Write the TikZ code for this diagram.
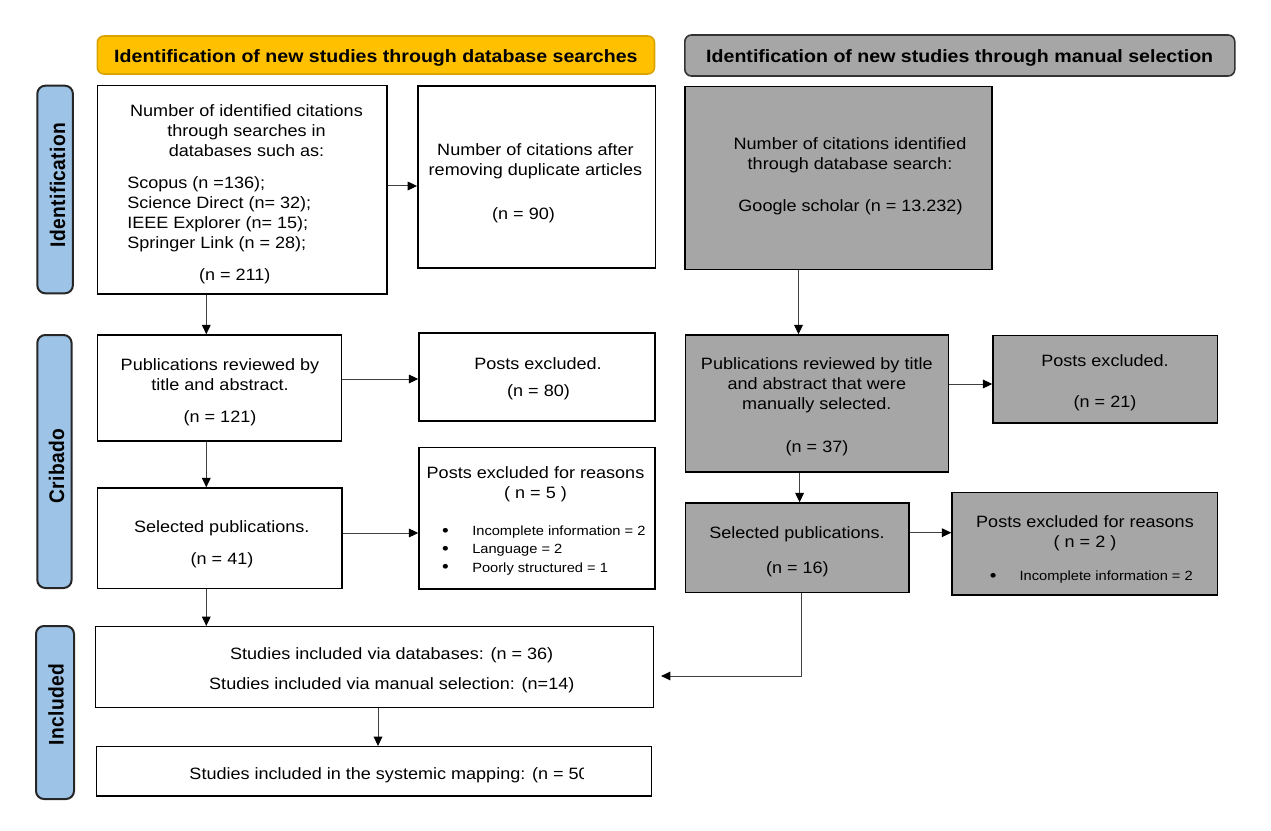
\documentclass[tikz,border=0pt]{standalone}
\usepackage{graphicx}
\usepackage{fontspec}
\setmainfont{Liberation Sans}[FakeStretch=1.1]
\newfontfamily\sidefont{Liberation Sans}[LetterSpace=2]
\usetikzlibrary{fit,arrows.meta,calc}
\definecolor{hdrorange}{HTML}{FFC000}
\definecolor{hdrorangeb}{HTML}{D9A300}
\definecolor{hdrgray}{HTML}{A6A6A6}
\definecolor{boxgray}{HTML}{A6A6A6}
\definecolor{sideblue}{HTML}{9DC3E6}
\definecolor{lineclr}{HTML}{404040}
\begin{document}
\begin{tikzpicture}[x=0.75pt,y=-0.75pt,
  bx/.style={draw=black, line width=1.1pt, inner sep=0pt},
  gbx/.style={bx, fill=boxgray},
  hdro/.style={draw=hdrorangeb, fill=hdrorange, line width=1.2pt, rounded corners=5pt, inner sep=0pt},
  hdrg/.style={draw=black!80, fill=hdrgray, line width=1.2pt, rounded corners=5pt, inner sep=0pt},
  side/.style={draw=black!85, fill=sideblue, line width=1.5pt, rounded corners=6pt, inner sep=0pt},
  txt/.style={inner sep=0pt, yshift=-1.5pt, align=center, font=\fontsize{12.3pt}{15.2pt}\selectfont},
  ltxt/.style={txt, align=left},
  stxt/.style={inner sep=0pt, yshift=-1.5pt, align=left, font=\fontsize{10pt}{13.7pt}\selectfont},
  btxt/.style={inner sep=0pt, yshift=-1.5pt, align=center, font=\fontsize{13pt}{13.7pt}\selectfont},
  htxt/.style={inner sep=0pt, yshift=-1.5pt, font=\fontsize{13.35pt}{16pt}\selectfont\bfseries},
  sidetxt/.style={inner sep=0pt, rotate=90, font=\sidefont\fontsize{14.4pt}{17pt}\selectfont\bfseries},
  arr/.style={draw=lineclr, line width=0.75pt, -{Triangle[length=7pt,width=6.5pt,color=black]}}
]
\useasboundingbox (0,0) rectangle (1271,831);

% headers
\node[hdro, fit={(97.3,36)(654.5,74)}] (H1) {};
\node[htxt] (H1t) at (375.9,56) {Identification of new studies through database searches};
\node[hdrg, fit={(684.8,35)(1234.8,76)}] (H2) {};
\node[htxt] (H2t) at (959.7,56) {Identification of new studies through manual selection};

% side labels
\node[side, fit={(37.3,85.7)(72.9,293.3)}] (S1) {};
\node[sidetxt] (S1t) at (57.5,185) {\scalebox{1}[1.1]{Identification}};
\node[side, fit={(37.3,335)(71.6,588)}] (S2) {};
\node[sidetxt] (S2t) at (56.5,466) {\scalebox{1}[1.1]{Cribado}};
\node[side, fit={(36,626)(74,799)}] (S3) {};
\node[sidetxt] (S3t) at (56,704.5) {\scalebox{1}[1.1]{Included}};

% left column boxes
\node[bx, fit={(97.3,85.7)(387,294)}] (A) {};
\node[txt] (At1) at (246.5,128.5) {Number of identified citations\\through searches in\\databases such as:};
\node[ltxt, anchor=west] (At2) at (127,212.3) {Scopus (n =136);\\Science Direct (n= 32);\\IEEE Explorer (n= 15);\\Springer Link (n = 28);};
\node[txt] (At3) at (234.7,274) {(n = 211)};

\node[bx, fit={(417.8,86)(655.3,268)}] (B) {};
\node[txt] (Bt1) at (535.5,159.5) {Number of citations after\\removing duplicate articles};
\node[txt] (Bt2) at (523.5,213) {(n = 90)};

\node[bx, fit={(97.3,335)(341.4,441)}] (C) {};
\node[txt] (Ct1) at (220,373) {Publications reviewed by\\title and abstract.};
\node[txt] (Ct2) at (220,416.5) {(n = 121)};

\node[bx, fit={(419,333)(655,421)}] (D) {};
\node[txt] (Dt1) at (538,362) {Posts excluded.};
\node[txt] (Dt2) at (538.5,390.5) {(n = 80)};

\node[bx, fit={(97.3,488)(342,588.5)}] (E) {};
\node[txt] (Et1) at (221.8,526) {Selected publications.};
\node[txt] (Et2) at (222,558) {(n = 41)};

\node[bx, fit={(419,447.7)(655,589)}] (F) {};
\node[txt] (Ft1) at (535.5,482.5) {Posts excluded for reasons\\( n = 5 )};
\node[btxt] (Fb) at (445.5,548.3) {•\\•\\•};
\node[stxt, anchor=west] (Fi) at (472,548.3) {Incomplete information = 2\\Language = 2\\Poorly structured = 1};

\node[bx, fit={(95.3,626.7)(653.7,707.3)}] (G) {};
\node[txt] (Gt1) at (391.7,653.3) {Studies included via databases: (n = 36)};
\node[txt] (Gt2) at (391.8,683.3) {Studies included via manual selection: (n=14)};

\node[bx, fit={(96.5,746.7)(651.6,796)}] (H) {};
\begin{scope}
  \clip (96.5,740) rectangle (583,800);
  \node[txt, anchor=west] (Ht) at (189.2,773.3) {Studies included in the systemic mapping: (n = 50)};
\end{scope}

% right column boxes
\node[gbx, fit={(684.8,86.7)(992.2,269.3)}] (I) {};
\node[txt] (It1) at (850,153) {Number of citations identified\\through database search:};
\node[txt] (It2) at (850.5,205) {Google scholar (n = 13.232)};

\node[gbx, fit={(685.6,335)(948.5,472)}] (J) {};
\node[txt] (Jt1) at (816.8,383.3) {Publications reviewed by title\\and abstract that were\\manually selected.};
\node[txt] (Jt2) at (817,446.7) {(n = 37)};

\node[gbx, fit={(993,335.7)(1217.4,423)}] (K) {};
\node[txt] (Kt1) at (1105,359) {Posts excluded.};
\node[txt] (Kt2) at (1105,401.7) {(n = 21)};

\node[gbx, fit={(685.6,503)(909,592.7)}] (L) {};
\node[txt] (Lt1) at (797,532.7) {Selected publications.};
\node[txt] (Lt2) at (797.4,567) {(n = 16)};

\node[gbx, fit={(952,492.3)(1217.4,595)}] (M) {};
\node[txt] (Mt1) at (1085,531.3) {Posts excluded for reasons\\( n = 2 )};
\node[btxt] (Mb) at (993.3,575) {•};
\node[stxt, anchor=west] (Mi) at (1019.3,575) {Incomplete information = 2};

% guide coordinates
\coordinate (lcol) at (206.3,0);
\coordinate (gcol) at (378,0);
\coordinate (rcol1) at (798.5,0);
\coordinate (rcol2) at (799.6,0);
\coordinate (rcol3) at (801.5,0);
\coordinate (rAB) at (0,186);
\coordinate (rCD) at (0,379);
\coordinate (rEF) at (0,533);
\coordinate (rJK) at (0,384);
\coordinate (rLM) at (0,532.7);
\coordinate (rLG) at (0,676);

% connectors
\draw[arr] (A.east |- rAB) -- (B.west |- rAB);
\draw[arr] (A.south -| lcol) -- (C.north -| lcol);
\draw[arr] (C.east |- rCD) -- (D.west |- rCD);
\draw[arr] (C.south -| lcol) -- (E.north -| lcol);
\draw[arr] (E.east |- rEF) -- (F.west |- rEF);
\draw[arr] (E.south -| lcol) -- (G.north -| lcol);
\draw[arr] (G.south -| gcol) -- (H.north -| gcol);
\draw[arr] (I.south -| rcol1) -- (J.north -| rcol1);
\draw[arr] (J.east |- rJK) -- (K.west |- rJK);
\draw[arr] (J.south -| rcol2) -- (L.north -| rcol2);
\draw[arr] (L.east |- rLM) -- (M.west |- rLM);
\draw[arr, shorten >=5pt] (L.south -| rcol3) |- (G.east |- rLG);
\end{tikzpicture}
\end{document}
